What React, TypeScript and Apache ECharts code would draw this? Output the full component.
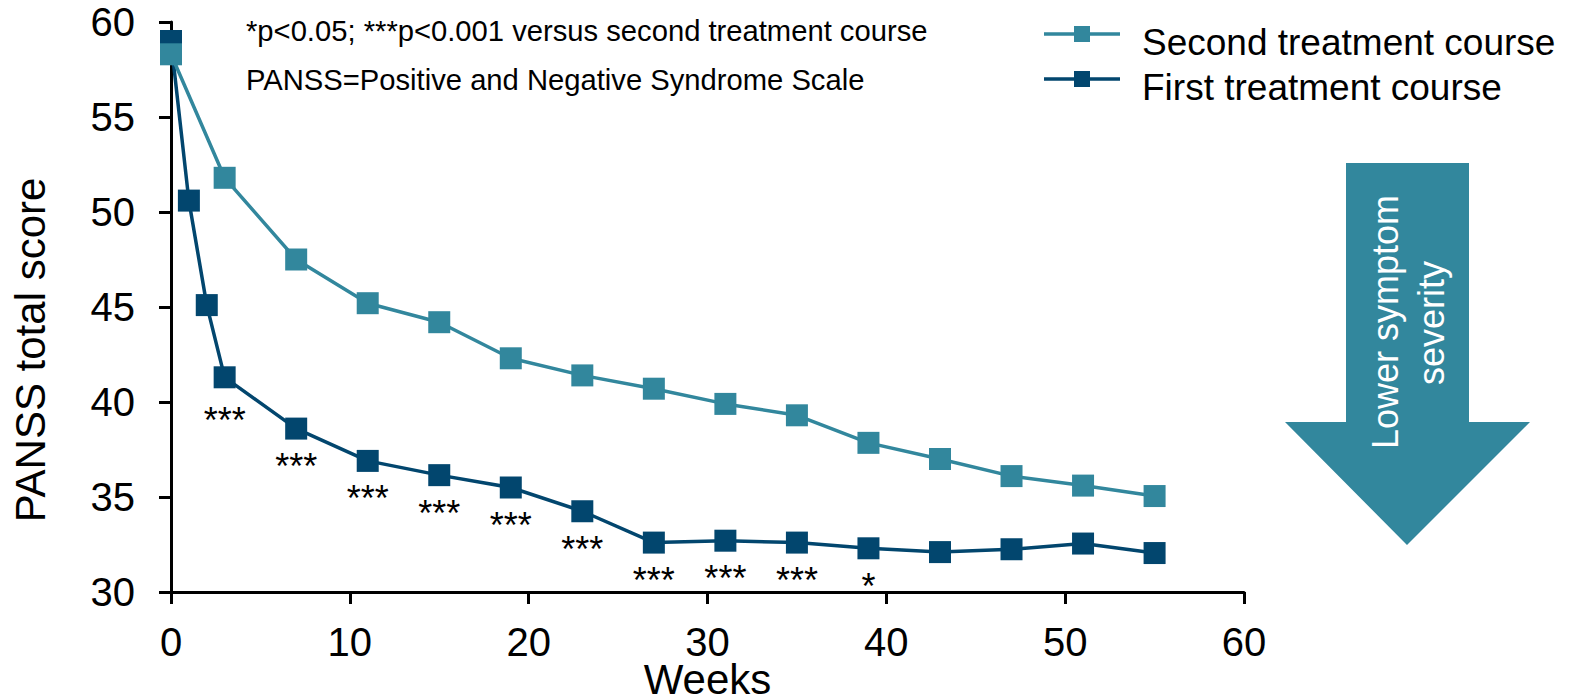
import React, { useEffect, useRef } from 'react';
import * as echarts from 'echarts';

const secondWeeks = [0, 3, 7, 11, 15, 19, 23, 27, 31, 35, 39, 43, 47, 51, 55];
const secondScores = [58.3, 51.8, 47.5, 45.2, 44.2, 42.3, 41.4, 40.7, 39.9, 39.3, 37.85, 37.0, 36.1, 35.6, 35.05];
const firstWeeks = [0, 1, 2, 3, 7, 11, 15, 19, 23, 27, 31, 35, 39, 43, 47, 51, 55];
const firstScores = [59.0, 50.6, 45.1, 41.3, 38.6, 36.9, 36.15, 35.5, 34.25, 32.6, 32.7, 32.6, 32.3, 32.1, 32.25, 32.55, 32.05];
const firstSignificance = ['', '', '', '***', '***', '***', '***', '***', '***', '***', '***', '***', '*', '', '', '', ''];
const seriesNames = ['Second treatment course', 'First treatment course'];
const xAxisName = 'Weeks';
const yAxisName = 'PANSS total score';
const footnotes = ['*p<0.05; ***p<0.001 versus second treatment course', 'PANSS=Positive and Negative Syndrome Scale'];
const arrowLines = ['Lower symptom', 'severity'];

const FONT = '"Liberation Sans", Arial, Helvetica, sans-serif';
const TEAL = '#32879D';
const DARK = '#02466E';
// legend icon: line with a square marker, drawn in the upper part of a 76x37 box
const LEGEND_ICON = 'path://M0 0L0.01 0L0 0.01Z M0 37L0.01 37L0 36.99Z M76 37L75.99 37L76 36.99Z M0 8.25H76V11.75H0Z M30 2H46V18H30Z';

export default function App() {
  const ref = useRef<HTMLDivElement>(null);
  useEffect(() => {
    if (!ref.current) return;
    const chart = echarts.init(ref.current, undefined, { renderer: 'svg' });
    const firstData = firstWeeks.map((w, i) => ({
      value: [w, firstScores[i]],
      label: {
        show: firstSignificance[i] !== '',
        formatter: firstSignificance[i],
        position: 'bottom',
        distance: i === 3 ? 14 : 9,
        color: '#000',
        fontSize: 36,
        fontFamily: FONT,
      },
    }));
    const secondData = secondWeeks.map((w, i) => [w, secondScores[i]]);
    const option: any = {
      animation: false,
      textStyle: { fontFamily: FONT },
      grid: { left: 171, right: 325, top: 22, bottom: 106, containLabel: false, outerBoundsMode: 'none' },
      legend: {
        data: [
          { name: seriesNames[0], icon: LEGEND_ICON },
          { name: seriesNames[1], icon: LEGEND_ICON },
        ],
        orient: 'vertical',
        left: 1044,
        top: 24,
        padding: 0,
        itemGap: 8,
        itemWidth: 76,
        itemHeight: 37,
        symbolKeepAspect: false,
        itemStyle: { borderWidth: 0 },
        textStyle: { fontSize: 37, color: '#000', fontFamily: FONT, padding: [0, 0, 0, 17] },
      },
      xAxis: {
        type: 'value',
        min: 0,
        max: 60,
        interval: 10,
        name: xAxisName,
        nameLocation: 'middle',
        nameGap: 66,
        nameMoveOverlap: false,
        nameTextStyle: { fontSize: 42, color: '#000', fontFamily: FONT },
        axisLine: { show: true, onZero: false, lineStyle: { color: '#000', width: 3 } },
        axisTick: { show: true, inside: false, length: 12, lineStyle: { color: '#000', width: 3 } },
        axisLabel: { fontSize: 40, color: '#000', margin: 30, fontFamily: FONT },
        splitLine: { show: false },
      },
      yAxis: {
        type: 'value',
        min: 30,
        max: 60,
        interval: 5,
        name: yAxisName,
        nameLocation: 'middle',
        nameGap: 120,
        nameMoveOverlap: false,
        nameTextStyle: { fontSize: 42, color: '#000', fontFamily: FONT, padding: [0, 86, 0, 0] },
        axisLine: { show: true, onZero: false, lineStyle: { color: '#000', width: 3 } },
        axisTick: { show: true, inside: false, length: 12, lineStyle: { color: '#000', width: 3 } },
        axisLabel: { fontSize: 40, color: '#000', margin: 36, fontFamily: FONT },
        splitLine: { show: false },
      },
      series: [
        {
          name: seriesNames[1],
          type: 'line',
          data: firstData,
          symbol: 'rect',
          symbolSize: 22,
          lineStyle: { color: DARK, width: 3.5 },
          itemStyle: { color: DARK },
          z: 2,
        },
        {
          name: seriesNames[0],
          type: 'line',
          data: secondData,
          symbol: 'rect',
          symbolSize: 22,
          lineStyle: { color: TEAL, width: 3.5 },
          itemStyle: { color: TEAL },
          z: 3,
        },
      ],
      graphic: [
        {
          type: 'text',
          x: 246,
          y: 31,
          style: { text: footnotes[0], fontSize: 29.2, fontFamily: FONT, fill: '#000', align: 'left', verticalAlign: 'middle' },
        },
        {
          type: 'text',
          x: 246,
          y: 80,
          style: { text: footnotes[1], fontSize: 29.2, fontFamily: FONT, fill: '#000', align: 'left', verticalAlign: 'middle' },
        },
        {
          type: 'polygon',
          shape: {
            points: [
              [1346, 163], [1469, 163], [1469, 422], [1530, 422], [1407, 545], [1285, 422], [1346, 422],
            ],
          },
          style: { fill: TEAL },
        },
        {
          type: 'text',
          x: 1385,
          y: 322,
          rotation: Math.PI / 2,
          style: { text: arrowLines[0], fontSize: 36, fontFamily: FONT, fill: '#fff', align: 'center', verticalAlign: 'middle' },
        },
        {
          type: 'text',
          x: 1431,
          y: 323,
          rotation: Math.PI / 2,
          style: { text: arrowLines[1], fontSize: 36, fontFamily: FONT, fill: '#fff', align: 'center', verticalAlign: 'middle' },
        },
      ],
    };
    chart.setOption(option);
    return () => chart.dispose();
  }, []);
  return <div ref={ref} style={{ position: 'absolute', left: 0, top: 0, width: 1569, height: 698 }} />;
}
